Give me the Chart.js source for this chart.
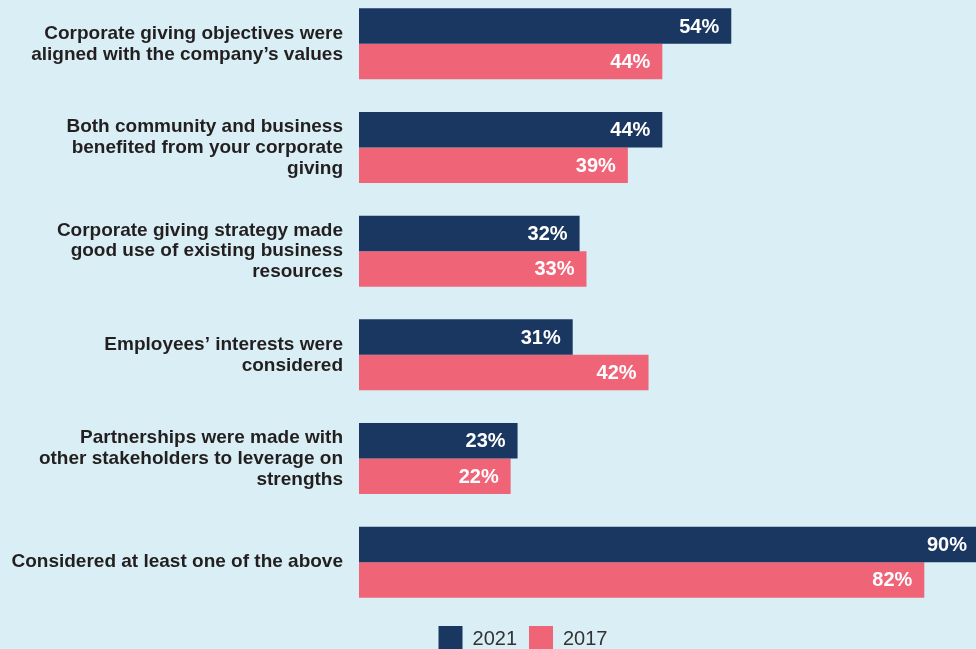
<!DOCTYPE html>
<html>
<head>
<meta charset="utf-8">
<script src="https://cdn.jsdelivr.net/npm/chart.js@4.4.0/dist/chart.umd.min.js"></script>
<style>
    html, body { margin: 0; padding: 0; background: #d9eff5; overflow: hidden; }
    body { width: 976px; height: 649px; position: relative; }
    .chart-wrap { position: absolute; left: 0; top: -8px; width: 976px; height: 670px; }
</style>
</head>
<body>
<div class="chart-wrap"><canvas id="givingChart"></canvas></div>
<script>
const categories = [
    ['Corporate giving objectives were', 'aligned with the company\u2019s values'],
    ['Both community and business', 'benefited from your corporate', 'giving'],
    ['Corporate giving strategy made', 'good use of existing business', 'resources'],
    ['Employees\u2019 interests were', 'considered'],
    ['Partnerships were made with', 'other stakeholders to leverage on', 'strengths'],
    'Considered at least one of the above'
];
const values2021 = [54, 44, 32, 31, 23, 90];
const values2017 = [44, 39, 33, 42, 22, 82];
const seriesNames = ['2021', '2017'];

const NAVY = '#1a3761';
const PINK = '#f06478';

// white percentage text at the end of each bar
const barValueLabels = {
    id: 'barValueLabels',
    afterDatasetsDraw(chart) {
        const c = chart.ctx;
        c.save();
        c.font = 'bold 20px "Liberation Sans", Arial, sans-serif';
        c.fillStyle = '#ffffff';
        c.textAlign = 'right';
        c.textBaseline = 'middle';
        chart.data.datasets.forEach((ds, i) => {
            chart.getDatasetMeta(i).data.forEach((bar, j) => {
                const x = Math.min(bar.x, chart.chartArea.right + 3);
                c.fillText(ds.data[j] + '%', x - 12, bar.y + 1);
            });
        });
        c.restore();
    }
};

// legend sits a bit right of the canvas centre, under the bars
const legendShift = {
    id: 'legendShift',
    afterLayout(chart) {
        if (chart.legend) chart.legend.left = 70;
    }
};

const ctx = document.getElementById('givingChart').getContext('2d');
const givingChart = new Chart(ctx, {
    type: 'bar',
    data: {
        labels: categories,
        datasets: [
            { label: seriesNames[0], data: values2021, backgroundColor: NAVY },
            { label: seriesNames[1], data: values2017, backgroundColor: PINK }
        ]
    },
    options: {
        indexAxis: 'y',
        responsive: true,
        maintainAspectRatio: false,
        animation: false,
        barPercentage: 1,
        categoryPercentage: 0.685,
        layout: { padding: 0 },
        plugins: {
            tooltip: { enabled: false },
            legend: {
                position: 'bottom',
                labels: {
                    boxWidth: 24,
                    boxHeight: 26,
                    padding: 12,
                    color: '#333333',
                    font: { family: '"Liberation Sans", Arial, sans-serif', size: 20 }
                }
            }
        },
        scales: {
            x: { display: false, min: 0, max: 89.5 },
            y: {
                grid: { display: false, drawTicks: false },
                border: { display: false },
                ticks: {
                    padding: 16,
                    color: '#231f20',
                    font: { family: '"Liberation Sans", Arial, sans-serif', size: 19, weight: 'bold', lineHeight: 1.1 }
                },
                afterFit(scale) {
                    scale.width = 359;
                    scale.paddingTop = 0;
                    scale.paddingBottom = 0;
                }
            }
        }
    },
    plugins: [barValueLabels, legendShift]
});
</script>
</body>
</html>
